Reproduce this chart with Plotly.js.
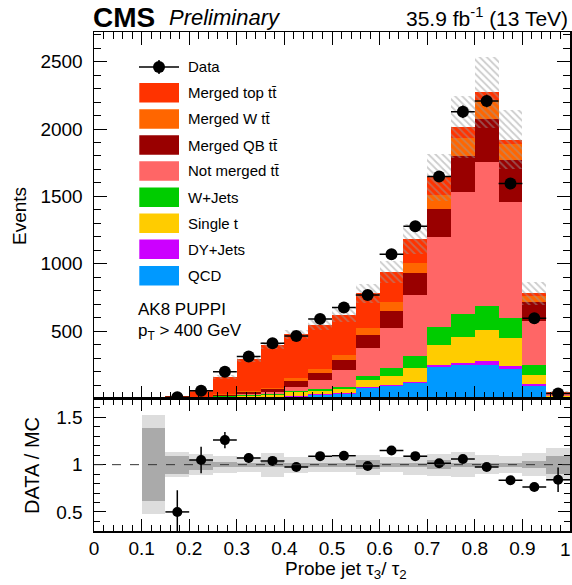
<!DOCTYPE html>
<html><head><meta charset="utf-8">
<script src="https://cdn.plot.ly/plotly-3.0.1.min.js"></script>
<style>html,body{margin:0;padding:0;background:#fff;}</style>
</head><body>
<div id="plot" style="width:572px;height:585px;"></div>
<script>
// ---- data (20 bins of tau3/tau2, width 0.05) ----
const binCenters = [0.025,0.075,0.125,0.175,0.225,0.275,0.325,0.375,0.425,0.475,0.525,0.575,0.625,0.675,0.725,0.775,0.825,0.875,0.925,0.975];
const binWidth = 0.05;
const qcd       = [1.5,1.5,2,2,4,6,8,11,14,26,33,76,90,115,232,249,249,219,95,10];
const dyJets    = [0,0,0,0,0.5,1,2,2,3,4,5,7,10,10,17,17,32,22,10,1];
const singleT   = [0,0,0,1,2,5,10,13,28,28,30,54,67,99,148,193,228,206,70,6];
const wJets     = [0,0,0,0.5,1,3,6,10,10,10,15,30,57,94,132,169,181,153,74,4];
const notMerged = [0,0,0,0.5,2,5,10,14,33,69,129,211,300,448,673,901,1062,855,329,12];
const mergedQB  = [0,0,0,0.5,2,6,12,22,43,55,74,94,126,164,204,273,324,317,141,6];
const mergedW   = [0,0,0,0.5,1.5,4,8,8,20,27,37,49,63,79,106,131,142,118,41,3];
const mergedTop = [0,0,1,13,42,130,235,314,325,326,297,260,225,174,129,79,54,30,20,3];
const mcUnc     = [0,0,0,2,5,12,20,28,35,40,50,69,79,113,175,230,263,218,87,10];
const dataVals  = [null,null,null,9,58,199,311,410,464,591,675,769,1071,1279,1648,2128,2208,1596,596,38];
const dataErr   = [0,0,0,3,8,14,18,20,22,24,26,28,33,36,41,46,47,40,24,6];
const ratioVals = [null,null,null,0.5,1.05,1.26,1.07,1.04,0.975,1.09,1.095,0.986,1.15,1.09,1.015,1.06,0.975,0.835,0.764,0.84];
const ratioErr  = [0,0,0,0.23,0.14,0.085,0.05,0.035,0.03,0.03,0.03,0.03,0.03,0.03,0.025,0.025,0.025,0.025,0.03,0.13];
const bandTotal = [null,null,0.526,0.13,0.11,0.09,0.08,0.127,0.085,0.08,0.08,0.105,0.08,0.105,0.115,0.13,0.1,0.09,0.12,0.175];
const bandStat  = [null,null,0.386,0.095,0.053,0.03,0.02,0.03,0.02,0.02,0.02,0.05,0.02,0.02,0.05,0.02,0.02,0.02,0.04,0.095];
const xTickVals = [0,0.1,0.2,0.3,0.4,0.5,0.6,0.7,0.8,0.9,1];
const xTickText = ['0','0.1','0.2','0.3','0.4','0.5','0.6','0.7','0.8','0.9',''];
const xLastLabel = '1';
const yTickVals = [500,1000,1500,2000,2500];
const rTickVals = [0.5,1,1.5];
const rTickText = ['0.5','1','1.5'];

const components = [
  {name:'QCD', vals:qcd, color:'#0099ff'},
  {name:'DY+Jets', vals:dyJets, color:'#cc00ff'},
  {name:'Single t', vals:singleT, color:'#ffcc00'},
  {name:'W+Jets', vals:wJets, color:'#00cc00'},
  {name:'Not merged t\u0074\u0304', vals:notMerged, color:'#ff6666'},
  {name:'Merged QB t\u0074\u0304', vals:mergedQB, color:'#990000'},
  {name:'Merged W t\u0074\u0304', vals:mergedW, color:'#ff6600'},
  {name:'Merged top t\u0074\u0304', vals:mergedTop, color:'#ff3300'}
];

const FONT = 'Liberation Sans, Arial, Helvetica, sans-serif';
const traces = [];
let cum = binCenters.map(()=>0);
components.forEach(c=>{
  traces.push({type:'bar', x:binCenters, y:c.vals, base:cum.slice(), width:binWidth,
    marker:{color:c.color, line:{width:0}}, xaxis:'x', yaxis:'y', hoverinfo:'skip'});
  cum = cum.map((v,i)=>v+c.vals[i]);
});
// hatched MC uncertainty
traces.push({type:'bar', x:binCenters, y:mcUnc.map(e=>2*e), base:cum.map((v,i)=>v-mcUnc[i]), width:binWidth,
  marker:{color:'rgba(0,0,0,0)', line:{width:0},
    pattern:{shape:'\\', fgcolor:'#999999', bgcolor:'rgba(0,0,0,0)', size:5, solidity:0.35, fillmode:'overlay'}},
  xaxis:'x', yaxis:'y', hoverinfo:'skip'});
// data
traces.push({type:'scatter', mode:'markers', x:binCenters, y:dataVals,
  marker:{color:'black', size:12},
  error_x:{type:'constant', value:binWidth/2, width:0, thickness:1.5, color:'black'},
  error_y:{type:'data', array:dataErr, width:0, thickness:1.5, color:'black'},
  xaxis:'x', yaxis:'y', hoverinfo:'skip'});
// ratio bands
traces.push({type:'bar', x:binCenters, y:bandTotal.map(e=>e==null?null:2*e), base:bandTotal.map(e=>e==null?null:1-e),
  width:binWidth, marker:{color:'#dddddd', line:{width:0}}, xaxis:'x2', yaxis:'y2', hoverinfo:'skip'});
traces.push({type:'bar', x:binCenters, y:bandStat.map(e=>e==null?null:2*e), base:bandStat.map(e=>e==null?null:1-e),
  width:binWidth, marker:{color:'#aaaaaa', line:{width:0}}, xaxis:'x2', yaxis:'y2', hoverinfo:'skip'});
traces.push({type:'scatter', mode:'markers', x:binCenters, y:ratioVals,
  marker:{color:'black', size:10},
  error_x:{type:'constant', value:binWidth/2, width:0, thickness:1.5, color:'black'},
  error_y:{type:'data', array:ratioErr, width:0, thickness:1.5, color:'black'},
  xaxis:'x2', yaxis:'y2', hoverinfo:'skip', cliponaxis:true});

// pixel helpers for annotations (plot area: x 94..570, y 32..531)
const px = x => (x-94)/476;
const py = y => (531-y)/499;

const shapes = [];
const annotations = [];
// dashed line at 1 in ratio
shapes.push({type:'line', xref:'x2', yref:'y2', x0:0, x1:1, y0:1, y1:1, line:{color:'#333', width:1, dash:'dash'}});

// legend
const legTop = [67, 92.7, 119, 145, 171, 197.3, 223.3, 249.3, 275.7];
shapes.push({type:'line', xref:'paper', yref:'paper', x0:px(139), x1:px(179), y0:py(legTop[0]), y1:py(legTop[0]), line:{color:'black', width:1.5}});
shapes.push({type:'line', xref:'paper', yref:'paper', x0:px(159), x1:px(159), y0:py(legTop[0]-7), y1:py(legTop[0]+7), line:{color:'black', width:1.5}});
shapes.push({type:'circle', xref:'paper', yref:'paper', x0:px(153), x1:px(165), y0:py(legTop[0]+6), y1:py(legTop[0]-6), fillcolor:'black', line:{width:0}});
annotations.push({xref:'paper', yref:'paper', x:px(185.5), y:py(legTop[0]), xanchor:'left', yanchor:'middle', text:'Data', showarrow:false, font:{family:FONT, size:15, color:'black'}});
const legOrder = components.slice().reverse();
legOrder.forEach((c,i)=>{
  const yc = legTop[i+1];
  shapes.push({type:'rect', xref:'paper', yref:'paper', x0:px(139.3), x1:px(179), y0:py(yc+9.7), y1:py(yc-9.7), fillcolor:c.color, line:{width:0}});
  annotations.push({xref:'paper', yref:'paper', x:px(185.5), y:py(yc), xanchor:'left', yanchor:'middle', text:c.name, showarrow:false, font:{family:FONT, size:15, color:'black'}});
});
annotations.push({xref:'paper', yref:'paper', x:px(136), y:py(309), xanchor:'left', yanchor:'middle', text:'AK8 PUPPI', showarrow:false, font:{family:FONT, size:17, color:'black'}});
annotations.push({xref:'paper', yref:'paper', x:px(136), y:py(332), xanchor:'left', yanchor:'middle', text:'p<sub>T</sub> > 400 GeV', showarrow:false, font:{family:FONT, size:17, color:'black'}});
// header
annotations.push({xref:'paper', yref:'paper', x:px(91), y:py(17), xanchor:'left', yanchor:'middle', text:'<b>CMS</b>', showarrow:false, font:{family:FONT, size:28, color:'black'}});
annotations.push({xref:'paper', yref:'paper', x:px(167), y:py(17), xanchor:'left', yanchor:'middle', text:'<i>Preliminary</i>', showarrow:false, font:{family:FONT, size:22, color:'black'}});
annotations.push({xref:'paper', yref:'paper', x:1, y:py(17), xanchor:'right', yanchor:'middle', text:'35.9 fb<sup>-1</sup> (13 TeV)', showarrow:false, font:{family:FONT, size:21, color:'black'}});
// last x tick label, kept inside the page
annotations.push({xref:'paper', yref:'paper', x:px(572), y:py(549), xanchor:'right', yanchor:'middle', text:xLastLabel, showarrow:false, borderpad:0, font:{family:FONT, size:19, color:'black'}});
// axis titles
annotations.push({xref:'paper', yref:'paper', x:px(283), y:py(570), xanchor:'left', yanchor:'middle', text:'Probe jet \u03c4<sub>3</sub>/ \u03c4<sub>2</sub>', showarrow:false, font:{family:FONT, size:19, color:'black'}});
annotations.push({xref:'paper', yref:'paper', x:px(19), y:py(216), xanchor:'center', yanchor:'middle', textangle:-90, text:'Events', showarrow:false, font:{family:FONT, size:19, color:'black'}});
annotations.push({xref:'paper', yref:'paper', x:px(32), y:py(465), xanchor:'center', yanchor:'middle', textangle:-90, text:'DATA / MC', showarrow:false, font:{family:FONT, size:20, color:'black'}});

const axBase = {showline:true, linecolor:'black', linewidth:1.5, mirror:'ticks', ticks:'inside', tickcolor:'black', tickwidth:1,
  showgrid:false, zeroline:false, tickfont:{family:FONT, size:19, color:'black'}};
const layout = {
  width:572, height:585, margin:{l:94, r:2, t:32, b:54},
  paper_bgcolor:'white', plot_bgcolor:'white', showlegend:false,
  barmode:'overlay', bargap:0,
  font:{family:FONT, color:'black'},
  xaxis:Object.assign({}, axBase, {domain:[0,1], range:[0,1], anchor:'y', tickmode:'array', tickvals:xTickVals, ticklen:13, showticklabels:false,
    minor:{tickmode:'linear', tick0:0, dtick:0.02, ticklen:7, tickcolor:'black', ticks:'inside', showgrid:false}}),
  yaxis:Object.assign({}, axBase, {domain:[0.2655,1], range:[0,2720], anchor:'x', tickmode:'array', tickvals:yTickVals, ticklen:13, ticklabelstandoff:6,
    minor:{tickmode:'linear', tick0:0, dtick:100, ticklen:7, tickcolor:'black', ticks:'inside', showgrid:false}}),
  xaxis2:Object.assign({}, axBase, {domain:[0,1], range:[0,1], anchor:'y2', tickmode:'array', tickvals:xTickVals, ticktext:xTickText, ticklen:12,
    minor:{tickmode:'linear', tick0:0, dtick:0.02, ticklen:6, tickcolor:'black', ticks:'inside', showgrid:false}}),
  yaxis2:Object.assign({}, axBase, {domain:[0,0.2655], range:[0.298,1.70], anchor:'x2', tickmode:'array', tickvals:rTickVals, ticktext:rTickText, ticklen:12, ticklabelstandoff:6,
    minor:{tickmode:'linear', tick0:0, dtick:0.1, ticklen:6, tickcolor:'black', ticks:'inside', showgrid:false}}),
  shapes:shapes, annotations:annotations
};
Plotly.newPlot('plot', traces, layout, {staticPlot:true, displayModeBar:false});
</script>
</body></html>
